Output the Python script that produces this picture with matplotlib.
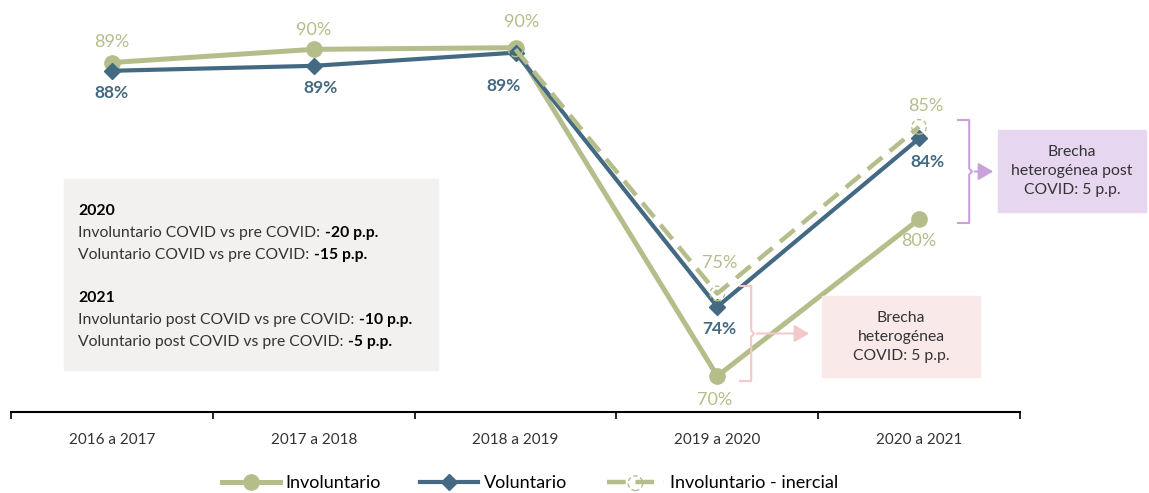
import matplotlib
matplotlib.use("Agg")
import matplotlib.pyplot as plt
import numpy as np
from matplotlib.lines import Line2D
from matplotlib.legend_handler import HandlerTuple
from matplotlib.patches import Rectangle, FancyArrowPatch

plt.rcParams['font.family'] = ['Lato', 'DejaVu Sans']

categories = ["2016 a 2017", "2017 a 2018", "2018 a 2019", "2019 a 2020", "2020 a 2021"]
involuntario = [89.3, 90.1, 90.2, 70.3, 79.8]
voluntario = [88.8, 89.1, 89.9, 74.5, 84.7]
inercial = [np.nan, np.nan, 90.1, 75.3, 85.4]
invol_labels = ["89%", "90%", "90%", "70%", "80%"]
vol_labels = ["88%", "89%", "89%", "74%", "84%"]
inercial_labels = [None, None, None, "75%", "85%"]

GREEN = "#B5BE8B"
BLUE = "#436A82"
W, H = 1149, 493

fig = plt.figure(figsize=(W / 100, H / 100), dpi=100)

def fx(x):
    return x / W

def fy(y):
    return 1 - y / H

ax = fig.add_axes([fx(11), fy(412), fx(1020) - fx(11), fy(0) - fy(412)])
ax.set_xlim(-0.5, 4.5)
ax.set_ylim(68.12, 93.09)
for s in ["top", "left", "right"]:
    ax.spines[s].set_visible(False)
ax.spines["bottom"].set_linewidth(1.5)
ax.set_yticks([])
x = np.arange(len(categories))
ax.set_xticks(np.arange(-0.5, 5.0, 1.0))
ax.set_xticklabels([])
ax.tick_params(axis="x", which="major", length=5, width=1.2, direction="out")
ax.set_xticks(x, minor=True)
ax.set_xticklabels(categories, minor=True, fontsize=11, color="#333333")
ax.tick_params(axis="x", which="minor", length=0, pad=15)

ax.plot(x, involuntario, color=GREEN, lw=3.6, marker="o", ms=11, zorder=3, solid_capstyle="round")
ax.plot(x, voluntario, color=BLUE, lw=3.0, marker="D", ms=8, zorder=4)
ln_in, = ax.plot(x, inercial, color=GREEN, lw=3.2, zorder=5, dash_capstyle="butt")
ln_in.set_dashes([4.2, 2.2])
sc = ax.scatter(x, inercial, s=110, facecolors="none", edgecolors=GREEN, linewidths=1.0,
                linestyles=(0, (3, 2)), zorder=6)

invol_off = [(0, 21), (0, 19), (6, 26), (-3, -24), (0, -22)]
vol_off = [(0, -22), (7, -22), (-12, -33), (2, -22), (8, -24)]
in_off = [None, None, None, (2, 31), (7, 21)]
for i in range(5):
    ax.annotate(invol_labels[i], (x[i], involuntario[i]), xytext=invol_off[i],
                textcoords="offset pixels", ha="center", va="center",
                fontsize=13, color=GREEN, zorder=7)
    ax.annotate(vol_labels[i], (x[i], voluntario[i]), xytext=vol_off[i],
                textcoords="offset pixels", ha="center", va="center",
                fontsize=12.5, color=BLUE, fontweight="bold", zorder=7)
    if inercial_labels[i]:
        ax.annotate(inercial_labels[i], (x[i], inercial[i]), xytext=in_off[i],
                    textcoords="offset pixels", ha="center", va="center",
                    fontsize=13, color=GREEN, zorder=7)

# Gray box
fig.patches.append(Rectangle((fx(64), fy(370)), fx(438) - fx(64), fy(179) - fy(370),
                             transform=fig.transFigure, color="#F2F1F0", zorder=0))

box_lines = [
    ("2020", None, 215),
    ("Involuntario COVID vs pre COVID: ", "-20 p.p.", 237),
    ("Voluntario COVID vs pre COVID: ", "-15 p.p.", 259),
    ("2021", None, 302),
    ("Involuntario post COVID vs pre COVID: ", "-10 p.p.", 324),
    ("Voluntario post COVID vs pre COVID: ", "-5 p.p.", 346),
]
renderer = fig.canvas.get_renderer()
for reg, bold, yy in box_lines:
    if bold is None:
        fig.text(fx(78), fy(yy), reg, fontsize=11.3, fontweight="bold", color="black",
                 ha="left", va="baseline")
    else:
        t = fig.text(fx(78), fy(yy), reg, fontsize=11.3, color="#333333", ha="left",
                     va="baseline")
        bb = t.get_window_extent(renderer=renderer)
        fig.text(bb.x1 / (W) + fx(1), fy(yy), bold, fontsize=11.3, fontweight="bold",
                 color="black", ha="left", va="baseline")

def bracket(x0, y0, y1, color, arrow_end, w=14):
    ym = (y0 + y1) / 2
    xs = [x0, x0 + w * 0.8, x0 + w * 0.8, x0 + w, x0 + w * 0.8, x0 + w * 0.8, x0]
    ys = [y0, y0, ym - 3, ym, ym + 3, y1, y1]
    fig.add_artist(Line2D([fx(v) for v in xs], [fy(v) for v in ys], color=color, lw=1.5,
                          transform=fig.transFigure))
    fig.add_artist(FancyArrowPatch(
        (fx(x0 + w), fy(ym)), (fx(arrow_end), fy(ym)), transform=fig.transFigure,
        arrowstyle="-|>,head_length=6,head_width=3.5", color=color, lw=1.5, mutation_scale=1.5))

# Pink gap
bracket(740, 286, 381, "#F2C8CA", 812)
fig.patches.append(Rectangle((fx(822), fy(377)), fx(980) - fx(822), fy(296) - fy(377),
                             transform=fig.transFigure, color="#F9E9E9", zorder=0))
fig.text(fx(901), fy(337), "Brecha\nheterogénea\nCOVID: 5 p.p.", ha="center", va="center",
         fontsize=11.3, color="#333333", linespacing=1.45)

# Purple gap
bracket(958, 120, 223, "#C9A2DC", 996)
fig.patches.append(Rectangle((fx(998), fy(212)), fx(1146) - fx(998), fy(130) - fy(212),
                             transform=fig.transFigure, color="#E7D6F0", zorder=0))
fig.text(fx(1072), fy(171), "Brecha\nheterogénea post\nCOVID: 5 p.p.", ha="center", va="center",
         fontsize=11.3, color="#333333", linespacing=1.45)

# Legend
h1 = Line2D([], [], color=GREEN, lw=3.6, marker="o", ms=11)
h2 = Line2D([], [], color=BLUE, lw=3.0, marker="D", ms=8)
h3l = Line2D([], [], color=GREEN, lw=3.2, dashes=[4.2, 2.2])
fig.legend([h1, h2, (h3l, sc)], ["Involuntario", "Voluntario", "Involuntario - inercial"],
           loc="center", bbox_to_anchor=(fx(530), fy(483)), ncol=3, frameon=False,
           fontsize=13, handlelength=3.2, columnspacing=2.2, handletextpad=0.3,
           scatterpoints=1, handler_map={tuple: HandlerTuple(ndivide=1)})

fig.savefig("out.png", dpi=100)
